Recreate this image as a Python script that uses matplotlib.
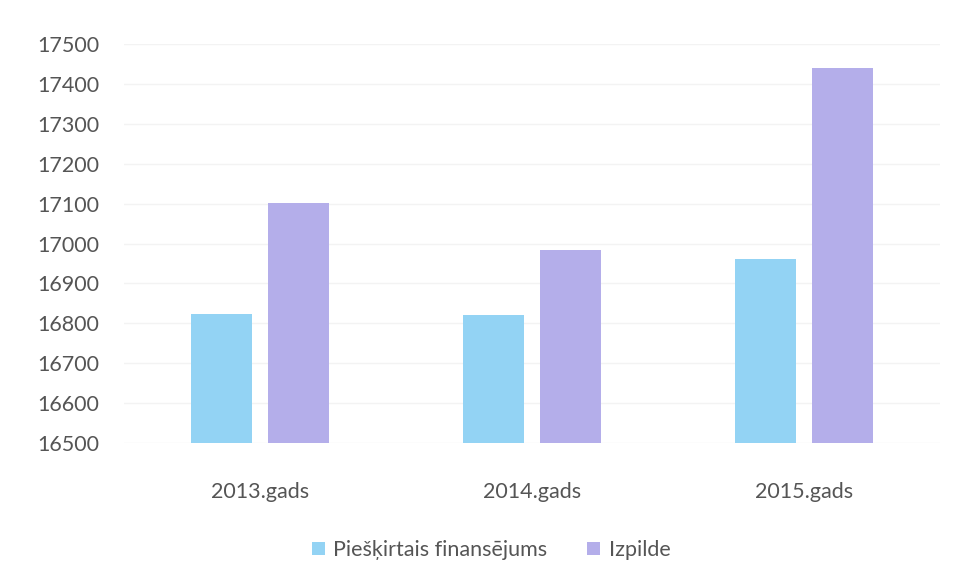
import numpy as np
import matplotlib.pyplot as plt

plt.rcParams['font.family'] = ['Lato', 'DejaVu Sans']

years = ['2013.gads', '2014.gads', '2015.gads']
pieskirtais = [16823, 16821, 16961]
izpilde = [17101, 16984, 17440]

blue = '#93d3f4'
purple = '#b4aeea'
text_col = '#555555'

fig = plt.figure(figsize=(9.6, 5.82), dpi=100)
ax = fig.add_axes([124 / 960, 1 - 443 / 582, 816 / 960, 399 / 582])

x = np.arange(len(years))
w = 0.225
off = 0.143
ax.bar(x - off, np.array(pieskirtais) - 16500, w, bottom=16500, color=blue,
       label='Piešķirtais finansējums', zorder=3)
ax.bar(x + off, np.array(izpilde) - 16500, w, bottom=16500, color=purple,
       label='Izpilde', zorder=3)

ax.set_xlim(-0.5, 2.5)
ax.set_ylim(16500, 17500)
ax.set_yticks(np.arange(16500, 17501, 100))
ax.set_xticks(x)
ax.set_xticklabels(years)
ax.yaxis.grid(True, color='#f3f3f3', linewidth=1, zorder=0)
for s in ax.spines.values():
    s.set_visible(False)
ax.tick_params(length=0, labelsize=15.5, colors=text_col)
ax.tick_params(axis='x', pad=28)
ax.tick_params(axis='y', pad=18)

leg = fig.legend(loc='center', bbox_to_anchor=(491 / 960, 1 - 550 / 582), ncol=2,
                 frameon=False, fontsize=15.5, handlelength=0.6, handleheight=0.6,
                 columnspacing=1.85, handletextpad=0.4)
for t in leg.get_texts():
    t.set_color(text_col)

fig.savefig('out.png', dpi=100, facecolor='white')
